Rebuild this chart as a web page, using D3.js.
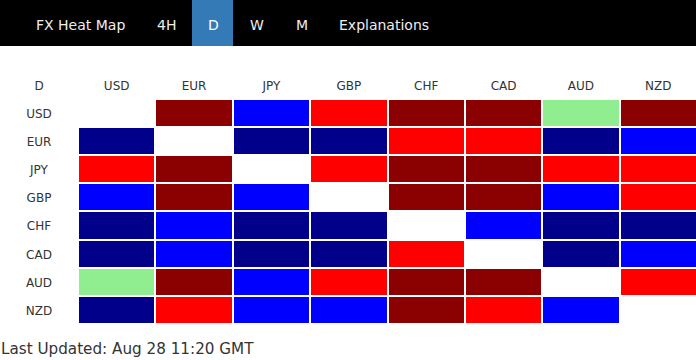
<!DOCTYPE html>
<html>
<head>
<meta charset="utf-8">
<script src="https://cdn.jsdelivr.net/npm/d3@7"></script>
<style>
  html, body { margin: 0; padding: 0; background: #fff; }
  svg { display: block; }
</style>
</head>
<body>
<svg id="chart" width="696" height="360"></svg>
<script>
// ---- data ----
const navItems = ["FX Heat Map", "4H", "D", "W", "M", "Explanations"];
const activeNav = "D";
const timeframe = "D";
const currencies = ["USD", "EUR", "JPY", "GBP", "CHF", "CAD", "AUD", "NZD"];
// strength codes: 2 strong up (dark red), 1 up (red), 0 neutral (light green),
// -1 down (blue), -2 strong down (navy), null = same currency
const rowUSD = [null, 2, -1, 1, 2, 2, 0, 2];
const rowEUR = [-2, null, -2, -2, 1, 1, -2, -1];
const rowJPY = [1, 2, null, 1, 2, 2, 1, 1];
const rowGBP = [-1, 2, -1, null, 2, 2, -1, 1];
const rowCHF = [-2, -1, -2, -2, null, -1, -2, -2];
const rowCAD = [-2, -1, -2, -2, 1, null, -2, -1];
const rowAUD = [0, 2, -1, 1, 2, 2, null, 1];
const rowNZD = [-2, 1, -1, -1, 2, 1, -1, null];
const rows = [rowUSD, rowEUR, rowJPY, rowGBP, rowCHF, rowCAD, rowAUD, rowNZD];
const levels = [-2, -1, 0, 1, 2];
const levelColors = ["#00008b", "#0000ff", "#90ee90", "#ff0000", "#8b0000"];
const lastUpdated = "Last Updated: Aug 28 11:20 GMT";

// ---- drawing ----
const svg = d3.select("#chart");
const font = "'DejaVu Sans', Verdana, sans-serif";

// nav bar
svg.append("rect").attr("x", 0).attr("y", 0).attr("width", 696).attr("height", 46).attr("fill", "#000");
const navX = [36, 157, 208, 250, 296, 339];
const navTabs = [[21, 139], [142, 190], [192, 233], [235, 280], [282, 322], [324, 444]];
navItems.forEach((t, i) => {
  if (t === activeNav) {
    svg.append("rect").attr("x", navTabs[i][0]).attr("y", 0)
      .attr("width", navTabs[i][1] - navTabs[i][0]).attr("height", 46).attr("fill", "#337ab7");
  }
  svg.append("text").attr("x", navX[i]).attr("y", 29.5)
    .attr("font-family", font).attr("font-size", 14)
    .attr("fill", t === activeNav ? "#fff" : "#eee").text(t);
});

const x = d3.scaleBand().domain(currencies).range([78, 697]);
const y = d3.scaleBand().domain(currencies).range([99, 323.8]);
const color = d3.scaleOrdinal().domain(levels).range(levelColors);

// header
svg.append("text").attr("x", 39).attr("y", 86).attr("text-anchor", "middle")
  .attr("dominant-baseline", "central").attr("font-family", font).attr("font-size", 12)
  .attr("fill", "#333").text(timeframe);
svg.selectAll("text.col").data(currencies).join("text").attr("class", "col")
  .attr("x", d => x(d) + x.bandwidth() / 2).attr("y", 86)
  .attr("text-anchor", "middle").attr("dominant-baseline", "central")
  .attr("font-family", font).attr("font-size", 12).attr("fill", "#333").text(d => d);
svg.selectAll("text.row").data(currencies).join("text").attr("class", "row")
  .attr("x", 39).attr("y", d => y(d) + y.bandwidth() / 2 + 1)
  .attr("text-anchor", "middle").attr("dominant-baseline", "central")
  .attr("font-family", font).attr("font-size", 12).attr("fill", "#333").text(d => d);

// cells
const cells = [];
rows.forEach((r, i) => r.forEach((v, j) => cells.push({ row: currencies[i], col: currencies[j], v })));
svg.selectAll("rect.cell").data(cells.filter(c => c.v !== null)).join("rect").attr("class", "cell")
  .attr("x", d => Math.round(x(d.col)) + 1)
  .attr("y", d => Math.round(y(d.row)) + 1)
  .attr("width", d => Math.round(x(d.col) + x.bandwidth()) - Math.round(x(d.col)) - 2)
  .attr("height", d => Math.round(y(d.row) + y.bandwidth()) - Math.round(y(d.row)) - 2)
  .attr("fill", d => color(d.v));

// footer
svg.append("text").attr("x", 1).attr("y", 354).attr("font-family", font)
  .attr("font-size", 15.2).attr("fill", "#333").text(lastUpdated);
</script>
</body>
</html>
